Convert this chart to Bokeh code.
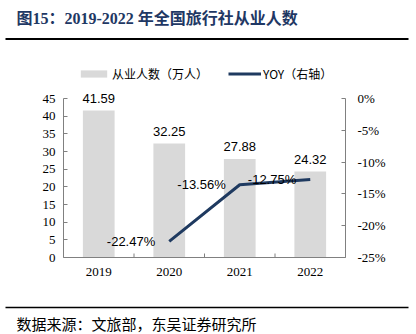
from bokeh.plotting import figure
from bokeh.layouts import column
from bokeh.models import (Range1d, LinearAxis, FactorRange, ColumnDataSource,
                          Legend, LegendItem, FixedTicker, CustomJSTickFormatter)
from bokeh.core.properties import value
from bokeh.embed import file_html
from bokeh.resources import INLINE

years = ["2019", "2020", "2021", "2022"]
employees = [41.59, 32.25, 27.88, 24.32]
yoy_years = ["2020", "2021", "2022"]
yoy = [-22.47, -13.56, -12.75]
left_ticks = [0, 5, 10, 15, 20, 25, 30, 35, 40, 45]
right_ticks = [0, -5, -10, -15, -20, -25]
boundaries = [0, 1, 2, 3, 4]

title_text = "图15：2019-2022 年全国旅行社从业人数"
source_text = "数据来源：文旅部，东吴证券研究所"
bar_name = "从业人数（万人）"
line_name = "YOY（右轴）"

BAR = "#D9D9D9"
LINE = "#1F3A60"
NAVY = "#1F3864"
AXIS = "#808080"
SERIF = "Liberation Serif"
SANS = "Liberation Sans"
CJK = "Noto Sans CJK SC"
MIXED = "'Liberation Serif', 'Noto Sans CJK SC'"

W = 416
TOP_H, MAIN_H, BOT_H = 60, 238, 36


def blank_fig(h):
    f = figure(width=W, height=h, x_range=Range1d(0, W), y_range=Range1d(0, h),
               output_backend="svg", toolbar_location=None,
               x_axis_location=None, y_axis_location=None, frame_align=False,
               min_border=0, min_border_left=0, min_border_right=0,
               min_border_top=0, min_border_bottom=0)
    f.grid.visible = False
    f.outline_line_color = None
    return f


# ---- header: title + rule
top = blank_fig(TOP_H)
top.text(x=[16], y=[TOP_H - 18], text=[title_text], text_font=value(MIXED),
         text_font_size="16px", text_font_style="bold", text_color=NAVY,
         text_baseline="middle", text_align="left")
top.segment(x0=[5], x1=[408], y0=[TOP_H - 38.5], y1=[TOP_H - 38.5],
            line_color="#000000", line_width=2)

# ---- main chart
FRAME_PX = 197          # frame height (y 60..257)
AX_PX = 159             # 0..45 span in pixels
ytop = 45 * FRAME_PX / AX_PX
rtop = -25 + 25 * FRAME_PX / AX_PX

p = figure(width=W, height=MAIN_H, x_range=FactorRange(*years), y_range=Range1d(0, ytop),
           output_backend="svg", toolbar_location=None, frame_align=False,
           min_border_left=63, min_border_right=71, min_border_top=0, min_border_bottom=41)
p.extra_y_ranges = {"yoy": Range1d(-25, rtop)}
p.x_range.range_padding = 0
p.grid.visible = False
p.outline_line_color = None

bar_src = ColumnDataSource(dict(x=years, y=employees, lab=[f"{v:.2f}" for v in employees]))
bars = p.vbar(x="x", top="y", width=0.45, source=bar_src, fill_color=BAR, line_color=None)
p.text(x="x", y="y", text="lab", source=bar_src, text_align="center", text_baseline="bottom",
       y_offset=-8, text_font=value(SANS), text_font_size="13px", text_color="#000000")

line_src = ColumnDataSource(dict(x=yoy_years, y=yoy, lab=[f"{v:.2f}%" for v in yoy]))
ln = p.line(x="x", y="y", source=line_src, y_range_name="yoy", line_color=LINE, line_width=3)
p.text(x="x", y="y", text="lab", source=line_src, y_range_name="yoy", text_align="right",
       text_baseline="middle", x_offset=-14, text_font=value(SANS), text_font_size="13px",
       text_color="#000000")

# category boundary ticks on the bottom axis
p.segment(x0=boundaries, x1=boundaries, y0=[0] * 5, y1=[4 * 45 / AX_PX] * 5,
          line_color=AXIS, line_width=1)


def style_axis(ax):
    ax.axis_line_color = AXIS
    ax.major_tick_line_color = AXIS
    ax.minor_tick_line_color = None
    ax.major_tick_in = 4
    ax.major_tick_out = 0
    ax.major_label_text_font = SERIF
    ax.major_label_text_font_size = "13px"
    ax.major_label_text_color = "#000000"


ya = p.yaxis[0]
ya.ticker = FixedTicker(ticks=left_ticks)
ya.bounds = (0, 45)
style_axis(ya)
ya.major_label_standoff = 8

ra = LinearAxis(y_range_name="yoy", ticker=FixedTicker(ticks=right_ticks),
                formatter=CustomJSTickFormatter(code="return tick + '%';"), bounds=(-25, 0))
style_axis(ra)
ra.major_label_standoff = 12
p.add_layout(ra, "right")

xa = p.xaxis[0]
style_axis(xa)
xa.major_tick_line_color = None
xa.major_label_standoff = 10

legend = Legend(items=[LegendItem(label=bar_name, renderers=[bars]),
                       LegendItem(label=line_name, renderers=[ln])],
                orientation="horizontal", location=(14, 175), border_line_color=None,
                background_fill_alpha=0, label_text_font=CJK, label_text_font_size="12px",
                glyph_width=33, glyph_height=9, spacing=20, padding=0, margin=0,
                label_standoff=2, label_text_color="#000000", label_height=12)
p.add_layout(legend, "center")

# ---- footer: rule + source
bot = blank_fig(BOT_H)
bot.segment(x0=[5], x1=[408], y0=[BOT_H - 9], y1=[BOT_H - 9], line_color="#000000",
            line_width=1.5)
bot.text(x=[16], y=[BOT_H - 25], text=[source_text], text_font=value(CJK),
         text_font_size="15px", text_color="#000000", text_baseline="middle",
         text_align="left")

layout = column(top, p, bot, spacing=0)
open("out.html", "w").write(file_html(layout, INLINE))
